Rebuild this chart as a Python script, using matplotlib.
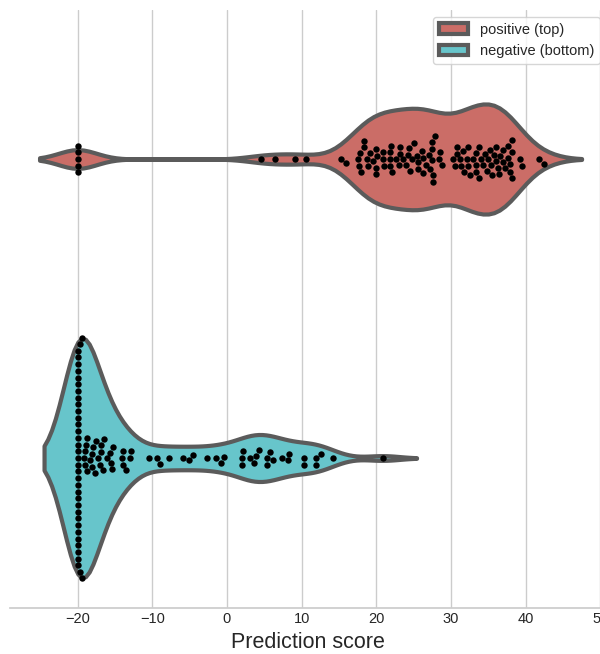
import matplotlib
matplotlib.use("Agg")
import matplotlib.pyplot as plt
from matplotlib.patches import Patch
import numpy as np
import pandas as pd
import seaborn as sns

# ---- data ----
categories = ["positive", "negative"]
legend_labels = ["positive (top)", "negative (bottom)"]

positive_scores = (
    [-20.0] * 5
    + [4.5, 6.4, 9.1, 10.6]
    + [15.3, 16.0, 17.5, 17.7, 17.8, 18.0, 18.3, 18.3, 18.8, 18.9, 19.2,
       19.6, 19.9, 19.9, 20.0, 20.1, 20.9, 20.9, 21.0,
       21.8, 21.8, 21.9, 22.0, 22.1, 22.7, 23.0, 23.2, 23.2, 23.6,
       24.0, 24.2, 24.4, 24.5, 24.8, 25.0, 25.5, 25.6, 25.6,
       26.1, 26.3, 26.3, 26.6, 27.0, 27.2, 27.5, 27.5, 27.5, 27.6, 27.6, 27.8,
       28.4, 28.6, 28.8, 30.3, 30.5, 30.8, 30.8,
       31.2, 31.4, 31.6, 31.7, 32.1, 32.3, 32.3, 32.5, 33.0,
       33.3, 33.4, 33.4, 33.7, 33.7, 34.0, 34.3, 34.5, 34.8, 35.0,
       35.2, 35.4, 35.5, 35.7, 36.0, 36.1, 36.3, 36.4, 36.6,
       37.0, 37.0, 37.2, 37.7, 37.7, 37.9, 37.9, 38.2, 38.2, 38.2,
       39.3, 39.5, 41.8, 42.4]
)

negative_scores = (
    [-20.0] * 33
    + [-19.7, -19.7, -19.4, -19.4]
    + [-19.1, -19.0, -19.0, -18.9, -18.8, -18.7, -18.3, -18.1, -18.1,
       -17.9, -17.7, -17.5, -17.2, -17.0, -16.8, -16.8, -16.6, -16.4, -16.1,
       -15.6, -15.5, -15.4, -15.2, -14.1, -13.9, -13.9, -13.5, -13.0, -12.9]
    + [-10.4, -9.3, -8.9, -7.7, -5.9, -5.1, -4.6, -2.7, -1.4, -0.8, -0.4,
       2.0, 2.0, 2.2, 3.1, 3.6, 3.9, 4.3, 5.4, 5.4, 5.8, 6.2, 7.4,
       8.2, 8.3, 10.3, 10.3, 11.9, 11.9, 12.6, 14.2, 20.9]
)

x_ticks = [-20, -10, 0, 10, 20, 30, 40, 50]

df = pd.DataFrame({
    "score": positive_scores + negative_scores,
    "label": [categories[0]] * len(positive_scores) + [categories[1]] * len(negative_scores),
})

# ---- style ----
sns.set_theme(style="whitegrid")
plt.rcParams["font.family"] = ["Liberation Sans", "DejaVu Sans"]

base = sns.color_palette("hls", 2)
palette = {categories[0]: base[0], categories[1]: base[1]}
edge = "#5b5b5b"

fig = plt.figure(figsize=(6.0, 6.54), dpi=100)
ax = fig.add_axes([0.016, 1 - 607.5 / 654, 0.9957, 598 / 654])

sns.violinplot(data=df, x="score", y="label", hue="label", order=categories,
               hue_order=categories, palette=palette, inner=None, linewidth=3,
               linecolor=edge, bw_method=0.2, cut=2, density_norm="area",
               common_norm=True, saturation=0.75, legend=False, ax=ax)
sns.swarmplot(data=df, x="score", y="label", order=categories, color="black",
              size=4.6, ax=ax)

ax.set_ylim(1.5, -0.5)
ax.set_xlim(-29.1, 50.9)
ax.set_xticks(x_ticks)
ax.set_yticks([])
ax.set_ylabel("")
ax.set_xlabel("Prediction score", fontsize=15.5, color="#262626")
ax.tick_params(axis="x", labelsize=10.5, colors="#262626", length=0)
ax.grid(axis="x", color="#cccccc", linewidth=1)
ax.grid(axis="y", visible=False)
sns.despine(ax=ax, left=True)
ax.spines["bottom"].set_color("#cccccc")

handles = [Patch(facecolor=sns.desaturate(base[i], 0.75), edgecolor=edge,
                 linewidth=3, label=legend_labels[i]) for i in range(2)]
ax.legend(handles=handles, loc="upper right", fontsize=10.5, frameon=True)

fig.savefig("out.png", dpi=100)
